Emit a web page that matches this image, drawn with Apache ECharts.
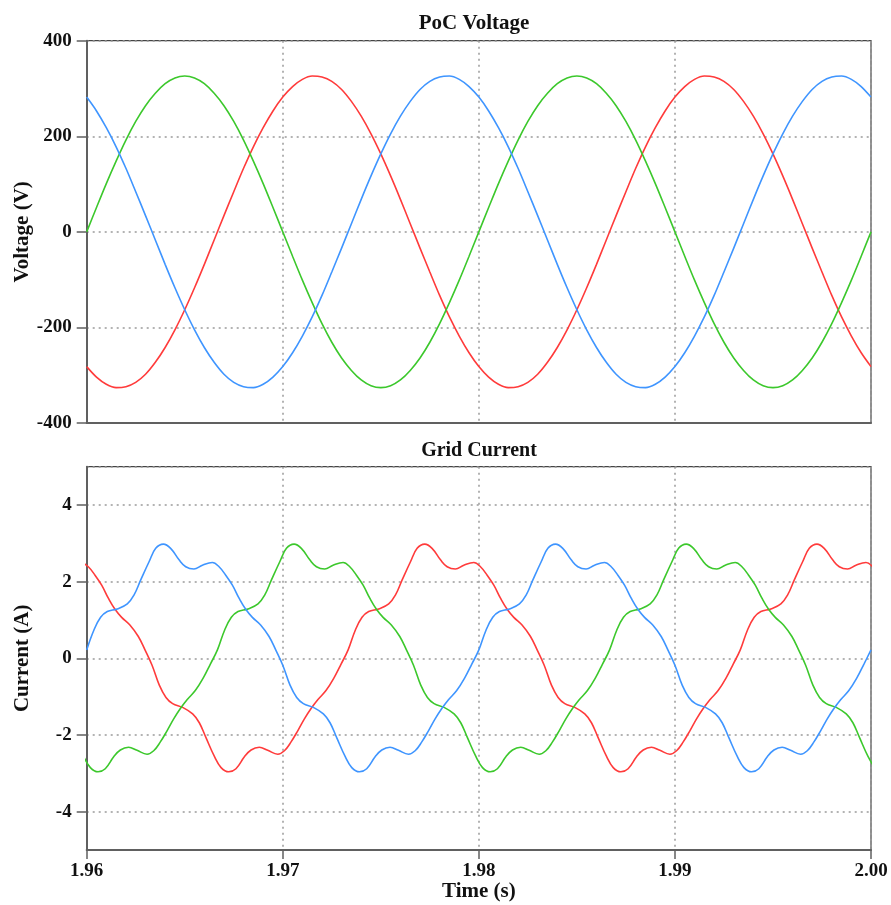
<!DOCTYPE html>
<html>
<head>
<meta charset="utf-8">
<script src="https://cdn.jsdelivr.net/npm/echarts@6/dist/echarts.min.js"></script>
<style>
  html, body { margin: 0; padding: 0; background: #fff; }
  #chart { width: 891px; height: 905px; }
</style>
</head>
<body>
<div id="chart"></div>
<script>
// Sample instants for the PoC voltages (s)
const voltTime = [
  1.9600, 1.9605, 1.9610, 1.9615, 1.9620, 1.9625, 1.9630, 1.9635, 1.9640, 1.9645,
  1.9650, 1.9655, 1.9660, 1.9665, 1.9670, 1.9675, 1.9680, 1.9685, 1.9690, 1.9695,
  1.9700, 1.9705, 1.9710, 1.9715, 1.9720, 1.9725, 1.9730, 1.9735, 1.9740, 1.9745,
  1.9750, 1.9755, 1.9760, 1.9765, 1.9770, 1.9775, 1.9780, 1.9785, 1.9790, 1.9795,
  1.9800, 1.9805, 1.9810, 1.9815, 1.9820, 1.9825, 1.9830, 1.9835, 1.9840, 1.9845,
  1.9850, 1.9855, 1.9860, 1.9865, 1.9870, 1.9875, 1.9880, 1.9885, 1.9890, 1.9895,
  1.9900, 1.9905, 1.9910, 1.9915, 1.9920, 1.9925, 1.9930, 1.9935, 1.9940, 1.9945,
  1.9950, 1.9955, 1.9960, 1.9965, 1.9970, 1.9975, 1.9980, 1.9985, 1.9990, 1.9995, 2.0000
];

// Phase voltages at the PoC (V)
const voltRed = [
  -282, -304, -319, -326, -324, -315, -298, -273, -242, -205, -163, -117, -68, -17, 34, 84, 133, 178, 218, 253,
  282, 304, 319, 326, 324, 315, 298, 273, 242, 205, 163, 117, 68, 17, -34, -84, -133, -178, -218, -253,
  -282, -304, -319, -326, -324, -315, -298, -273, -242, -205, -163, -117, -68, -17, 34, 84, 133, 178, 218, 253,
  282, 304, 319, 326, 324, 315, 298, 273, 242, 205, 163, 117, 68, 17, -34, -84, -133, -178, -218, -253, -282
];
const voltGreen = [
  0, 51, 101, 148, 192, 231, 264, 290, 310, 322, 326, 322, 310, 290, 264, 231, 192, 148, 101, 51,
  0, -51, -101, -148, -192, -231, -264, -290, -310, -322, -326, -322, -310, -290, -264, -231, -192, -148, -101, -51,
  0, 51, 101, 148, 192, 231, 264, 290, 310, 322, 326, 322, 310, 290, 264, 231, 192, 148, 101, 51,
  0, -51, -101, -148, -192, -231, -264, -290, -310, -322, -326, -322, -310, -290, -264, -231, -192, -148, -101, -51, 0
];
const voltBlue = [
  282, 253, 218, 178, 133, 84, 34, -17, -68, -117, -163, -205, -242, -273, -298, -315, -324, -326, -319, -304,
  -282, -253, -218, -178, -133, -84, -34, 17, 68, 117, 163, 205, 242, 273, 298, 315, 324, 326, 319, 304,
  282, 253, 218, 178, 133, 84, 34, -17, -68, -117, -163, -205, -242, -273, -298, -315, -324, -326, -319, -304,
  -282, -253, -218, -178, -133, -84, -34, 17, 68, 117, 163, 205, 242, 273, 298, 315, 324, 326, 319, 304, 282
];

// Grid phase currents as [time (s), current (A)]
const currBlue = [
  [1.96000,0.22],[1.96037,0.74],[1.96071,1.07],[1.96105,1.22],[1.96156,1.29],[1.96207,1.42],[1.96241,1.65],[1.96275,2.04],
  [1.96318,2.52],[1.96352,2.87],[1.96391,2.98],[1.96428,2.87],[1.96471,2.57],[1.96505,2.39],[1.96547,2.33],[1.96590,2.43],
  [1.96641,2.50],[1.96675,2.39],[1.96709,2.17],[1.96743,1.91],[1.96777,1.57],[1.96811,1.28],[1.96845,1.07],[1.96887,0.87],
  [1.96930,0.57],[1.96964,0.22],[1.97000,-0.18],[1.97037,-0.70],[1.97071,-1.02],[1.97105,-1.18],[1.97156,-1.28],[1.97207,-1.45],
  [1.97241,-1.68],[1.97275,-2.07],[1.97318,-2.56],[1.97352,-2.85],[1.97391,-2.96],[1.97428,-2.88],[1.97471,-2.57],[1.97505,-2.39],
  [1.97547,-2.32],[1.97590,-2.40],[1.97641,-2.50],[1.97675,-2.41],[1.97709,-2.18],[1.97743,-1.89],[1.97777,-1.58],[1.97811,-1.31],
  [1.97845,-1.08],[1.97887,-0.84],[1.97930,-0.49],[1.97964,-0.15],
  [1.98000,0.22],[1.98037,0.74],[1.98071,1.07],[1.98105,1.22],[1.98156,1.29],[1.98207,1.42],[1.98241,1.65],[1.98275,2.04],
  [1.98318,2.52],[1.98352,2.87],[1.98391,2.98],[1.98428,2.87],[1.98471,2.57],[1.98505,2.39],[1.98547,2.33],[1.98590,2.43],
  [1.98641,2.50],[1.98675,2.39],[1.98709,2.17],[1.98743,1.91],[1.98777,1.57],[1.98811,1.28],[1.98845,1.07],[1.98887,0.87],
  [1.98930,0.57],[1.98964,0.22],[1.99000,-0.18],[1.99037,-0.70],[1.99071,-1.02],[1.99105,-1.18],[1.99156,-1.28],[1.99207,-1.45],
  [1.99241,-1.68],[1.99275,-2.07],[1.99318,-2.56],[1.99352,-2.85],[1.99391,-2.96],[1.99428,-2.88],[1.99471,-2.57],[1.99505,-2.39],
  [1.99547,-2.32],[1.99590,-2.40],[1.99641,-2.50],[1.99675,-2.41],[1.99709,-2.18],[1.99743,-1.89],[1.99777,-1.58],[1.99811,-1.31],
  [1.99845,-1.08],[1.99887,-0.84],[1.99930,-0.49],[1.99964,-0.15],[2.00000,0.22]
];

const currGreen = [
  [1.959847,-2.56],[1.960187,-2.85],[1.960577,-2.96],[1.960947,-2.88],[1.961377,-2.57],[1.961717,-2.39],[1.962137,-2.32],
  [1.962567,-2.40],[1.963077,-2.50],[1.963417,-2.41],[1.963757,-2.18],[1.964097,-1.89],[1.964437,-1.58],[1.964777,-1.31],
  [1.965117,-1.08],[1.965537,-0.84],[1.965967,-0.49],[1.966307,-0.15],
  [1.966667,0.22],[1.967037,0.74],[1.967377,1.07],[1.967717,1.22],[1.968227,1.29],[1.968737,1.42],[1.969077,1.65],[1.969417,2.04],
  [1.969847,2.52],[1.970187,2.87],[1.970577,2.98],[1.970947,2.87],[1.971377,2.57],[1.971717,2.39],[1.972137,2.33],[1.972567,2.43],
  [1.973077,2.50],[1.973417,2.39],[1.973757,2.17],[1.974097,1.91],[1.974437,1.57],[1.974777,1.28],[1.975117,1.07],[1.975537,0.87],
  [1.975967,0.57],[1.976307,0.22],[1.976667,-0.18],[1.977037,-0.70],[1.977377,-1.02],[1.977717,-1.18],[1.978227,-1.28],[1.978737,-1.45],
  [1.979077,-1.68],[1.979417,-2.07],[1.979847,-2.56],[1.980187,-2.85],[1.980577,-2.96],[1.980947,-2.88],[1.981377,-2.57],[1.981717,-2.39],
  [1.982137,-2.32],[1.982567,-2.40],[1.983077,-2.50],[1.983417,-2.41],[1.983757,-2.18],[1.984097,-1.89],[1.984437,-1.58],[1.984777,-1.31],
  [1.985117,-1.08],[1.985537,-0.84],[1.985967,-0.49],[1.986307,-0.15],
  [1.986667,0.22],[1.987037,0.74],[1.987377,1.07],[1.987717,1.22],[1.988227,1.29],[1.988737,1.42],[1.989077,1.65],[1.989417,2.04],
  [1.989847,2.52],[1.990187,2.87],[1.990577,2.98],[1.990947,2.87],[1.991377,2.57],[1.991717,2.39],[1.992137,2.33],[1.992567,2.43],
  [1.993077,2.50],[1.993417,2.39],[1.993757,2.17],[1.994097,1.91],[1.994437,1.57],[1.994777,1.28],[1.995117,1.07],[1.995537,0.87],
  [1.995967,0.57],[1.996307,0.22],[1.996667,-0.18],[1.997037,-0.70],[1.997377,-1.02],[1.997717,-1.18],[1.998227,-1.28],[1.998737,-1.45],
  [1.999077,-1.68],[1.999417,-2.07],[1.999847,-2.56],[2.000187,-2.85]
];

const currRed = [
  [1.959743,2.50],[1.960083,2.39],[1.960423,2.17],[1.960763,1.91],[1.961103,1.57],[1.961443,1.28],[1.961783,1.07],[1.962203,0.87],
  [1.962633,0.57],[1.962973,0.22],[1.963333,-0.18],[1.963703,-0.70],[1.964043,-1.02],[1.964383,-1.18],[1.964893,-1.28],[1.965403,-1.45],
  [1.965743,-1.68],[1.966083,-2.07],[1.966513,-2.56],[1.966853,-2.85],[1.967243,-2.96],[1.967613,-2.88],[1.968043,-2.57],[1.968383,-2.39],
  [1.968803,-2.32],[1.969233,-2.40],[1.969743,-2.50],[1.970083,-2.41],[1.970423,-2.18],[1.970763,-1.89],[1.971103,-1.58],[1.971443,-1.31],
  [1.971783,-1.08],[1.972203,-0.84],[1.972633,-0.49],[1.972973,-0.15],
  [1.973333,0.22],[1.973703,0.74],[1.974043,1.07],[1.974383,1.22],[1.974893,1.29],[1.975403,1.42],[1.975743,1.65],[1.976083,2.04],
  [1.976513,2.52],[1.976853,2.87],[1.977243,2.98],[1.977613,2.87],[1.978043,2.57],[1.978383,2.39],[1.978803,2.33],[1.979233,2.43],
  [1.979743,2.50],[1.980083,2.39],[1.980423,2.17],[1.980763,1.91],[1.981103,1.57],[1.981443,1.28],[1.981783,1.07],[1.982203,0.87],
  [1.982633,0.57],[1.982973,0.22],[1.983333,-0.18],[1.983703,-0.70],[1.984043,-1.02],[1.984383,-1.18],[1.984893,-1.28],[1.985403,-1.45],
  [1.985743,-1.68],[1.986083,-2.07],[1.986513,-2.56],[1.986853,-2.85],[1.987243,-2.96],[1.987613,-2.88],[1.988043,-2.57],[1.988383,-2.39],
  [1.988803,-2.32],[1.989233,-2.40],[1.989743,-2.50],[1.990083,-2.41],[1.990423,-2.18],[1.990763,-1.89],[1.991103,-1.58],[1.991443,-1.31],
  [1.991783,-1.08],[1.992203,-0.84],[1.992633,-0.49],[1.992973,-0.15],
  [1.993333,0.22],[1.993703,0.74],[1.994043,1.07],[1.994383,1.22],[1.994893,1.29],[1.995403,1.42],[1.995743,1.65],[1.996083,2.04],
  [1.996513,2.52],[1.996853,2.87],[1.997243,2.98],[1.997613,2.87],[1.998043,2.57],[1.998383,2.39],[1.998803,2.33],[1.999233,2.43],
  [1.999743,2.50],[2.000083,2.39]
];

const titles = ['PoC Voltage', 'Grid Current'];
const yNames = ['Voltage (V)', 'Current (A)'];
const xName = 'Time (s)';

const FONT = '"Liberation Serif", "Times New Roman", serif';
const RED = '#ff3b3b', GREEN = '#3cc82c', BLUE = '#3f95ff';
const AXIS = '#606060';

const chart = echarts.init(document.getElementById('chart'), null, { renderer: 'canvas' });

const dotted = { color: '#9a9a9a', width: 1.5, type: [2, 4] };
const labelFont = { fontFamily: FONT, fontWeight: 'bold', fontSize: 19, color: '#111' };
const nameFont = { fontFamily: FONT, fontWeight: 'bold', fontSize: 21, color: '#111' };

function xAxisFor(gridIndex, withLabels) {
  return {
    type: 'value', gridIndex, min: 1.96, max: 2.00, interval: 0.01,
    name: withLabels ? xName : '', nameLocation: 'middle', nameGap: 31, nameMoveOverlap: false,
    nameTextStyle: nameFont,
    axisLine: { show: true, onZero: false, lineStyle: { color: AXIS, width: 2 } },
    axisTick: { show: withLabels, length: 9, lineStyle: { color: AXIS, width: 1.5 } },
    axisLabel: { show: withLabels, margin: 12, ...labelFont, formatter: v => v.toFixed(2) },
    splitLine: { show: true, lineStyle: dotted }
  };
}

function yAxisFor(gridIndex, name, range) {
  return {
    type: 'value', gridIndex, ...range,
    name, nameLocation: 'middle', nameGap: 54, nameMoveOverlap: false, nameTextStyle: nameFont,
    axisLine: { show: true, onZero: false, lineStyle: { color: AXIS, width: 2 } },
    axisTick: { show: true, length: 10, lineStyle: { color: AXIS, width: 1.5 } },
    axisLabel: { margin: 15, showMinLabel: range.min === -400, showMaxLabel: range.max === 400, ...labelFont },
    splitLine: { show: true, lineStyle: dotted }
  };
}

function pairs(t, v) { return t.map((x, i) => [x, v[i]]); }

function line(name, data, color, xi, yi, smooth) {
  return {
    name, type: 'line', xAxisIndex: xi, yAxisIndex: yi, data,
    showSymbol: false, smooth, clip: true, animation: false,
    lineStyle: { color, width: 1.6 }
  };
}

const gridBase = { left: 86.7, width: 784.3, show: true, borderColor: '#444', borderWidth: 1.2,
  containLabel: false, outerBoundsMode: 'none' };

const option = {
  backgroundColor: '#ffffff',
  animation: false,
  title: [
    { text: titles[0], left: 469, top: 8, textAlign: 'center', textStyle: nameFont },
    { text: titles[1], left: 474, top: 436, textAlign: 'center', textStyle: { ...nameFont, fontSize: 20 } }
  ],
  grid: [
    { ...gridBase, top: 40.7, height: 382.3 },
    { ...gridBase, top: 466.7, height: 383.3 }
  ],
  xAxis: [xAxisFor(0, false), xAxisFor(1, true)],
  yAxis: [
    yAxisFor(0, yNames[0], { min: -400, max: 400, interval: 200 }),
    yAxisFor(1, yNames[1], { min: -5, max: 5, splitNumber: 5 })
  ],
  series: [
    line('Va', pairs(voltTime, voltRed), RED, 0, 0, 0.3),
    line('Vb', pairs(voltTime, voltGreen), GREEN, 0, 0, 0.3),
    line('Vc', pairs(voltTime, voltBlue), BLUE, 0, 0, 0.3),
    line('Ia', currRed, RED, 1, 1, 0.4),
    line('Ib', currGreen, GREEN, 1, 1, 0.4),
    line('Ic', currBlue, BLUE, 1, 1, 0.4)
  ]
};

chart.setOption(option);
</script>
</body>
</html>
